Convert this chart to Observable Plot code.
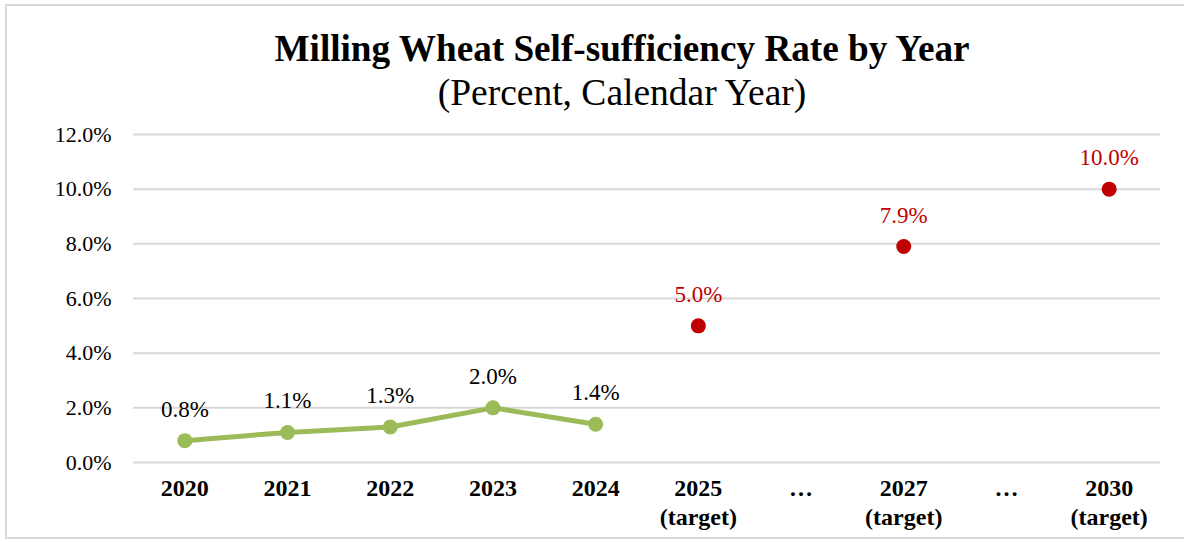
<!DOCTYPE html>
<html>
<head>
<meta charset="utf-8">
<script src="https://cdn.jsdelivr.net/npm/d3@7"></script>
<script src="https://cdn.jsdelivr.net/npm/@observablehq/plot@0.6"></script>
<style>
  html, body { margin: 0; padding: 0; background: #fff; }
  #wrap { position: relative; width: 1184px; height: 542px; overflow: hidden; font-family: "Liberation Serif", "Times New Roman", serif; }
  #frame { position: absolute; left: 5px; top: 4px; width: 1184px; height: 535px; border: 2px solid #d9d9d9; box-sizing: border-box; }
  #chart { position: absolute; left: 0; top: 0; }
  .title { position: absolute; left: 622px; transform: translateX(-50%); white-space: nowrap; line-height: 1; color: #000; }
  #t1 { top: 30px; font-size: 37.2px; font-weight: bold; }
  #t2 { top: 74px; font-size: 37.5px; }
</style>
</head>
<body>
<div id="wrap">
  <div id="frame"></div>
  <div id="chart"></div>
  <div class="title" id="t1">Milling Wheat Self-sufficiency Rate by Year</div>
  <div class="title" id="t2">(Percent, Calendar Year)</div>
</div>
<script>
// Category keys and their axis labels
const categories = ["2020", "2021", "2022", "2023", "2024", "2025T", "gap1", "2027T", "gap2", "2030T"];
const categoryLabels = ["2020", "2021", "2022", "2023", "2024", "2025\n(target)", "…", "2027\n(target)", "…", "2030\n(target)"];

// Actual self-sufficiency rate (%)
const actualYears = ["2020", "2021", "2022", "2023", "2024"];
const actualValues = [0.8, 1.1, 1.3, 2.0, 1.4];

// Targets (%)
const targetYears = ["2025T", "2027T", "2030T"];
const targetValues = [5.0, 7.9, 10.0];

// Y axis ticks
const yTicks = [0, 2, 4, 6, 8, 10, 12];

const actual = actualYears.map((c, i) => ({cat: c, value: actualValues[i]}));
const target = targetYears.map((c, i) => ({cat: c, value: targetValues[i]}));
const labelOf = new Map(categories.map((c, i) => [c, categoryLabels[i]]));
const fmt = v => v.toFixed(1) + "%";

const green = "#9BBB59";
const red = "#C00000";

const plot = Plot.plot({
  width: 1184,
  height: 542,
  marginLeft: 133,
  marginRight: 24,
  marginTop: 134,
  marginBottom: 80,
  style: {fontFamily: "Liberation Serif, Times New Roman, serif", background: "transparent", color: "#000"},
  x: {type: "point", domain: categories, padding: 0.5, round: false},
  y: {domain: [0, 12]},
  marks: [
    Plot.gridY(yTicks, {stroke: "#d9d9d9", strokeOpacity: 1, strokeWidth: 2}),
    Plot.axisY(yTicks, {tickSize: 0, tickPadding: 22, tickFormat: fmt, fontSize: 22, fill: "#000", label: null}),
    Plot.axisX({tickSize: 0, tickPadding: 14, tickFormat: d => labelOf.get(d), fontSize: 24, fontWeight: "bold", lineHeight: 1.17, fill: "#000", label: null}),
    Plot.line(actual, {x: "cat", y: "value", stroke: green, strokeWidth: 5}),
    Plot.dot(actual, {x: "cat", y: "value", r: 7.5, fill: green}),
    Plot.dot(target, {x: "cat", y: "value", r: 7.5, fill: red}),
    Plot.text(actual, {x: "cat", y: "value", text: d => fmt(d.value), lineAnchor: "bottom", dy: -24, fontSize: 23, fill: "#000"}),
    Plot.text(target, {x: "cat", y: "value", text: d => fmt(d.value), lineAnchor: "bottom", dy: -24, fontSize: 23, fill: red})
  ]
});
document.getElementById("chart").appendChild(plot);
</script>
</body>
</html>
